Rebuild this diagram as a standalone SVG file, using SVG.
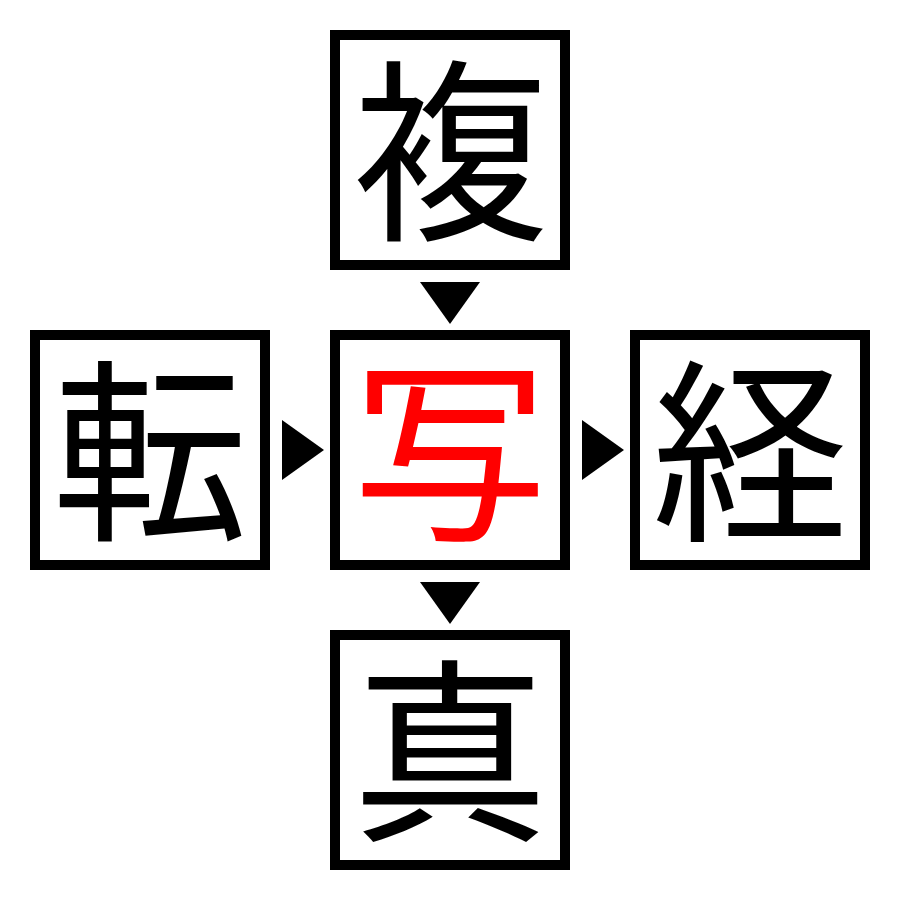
<svg xmlns="http://www.w3.org/2000/svg" width="900" height="900" viewBox="0 0 900 900">
<style>
.box{fill:#fff;stroke:#000;stroke-width:10}
.k{font-family:"Noto Sans CJK JP","Noto Sans CJK SC",sans-serif;font-size:196px;text-anchor:middle;fill:#000}
.red{fill:#ff0000}
.arr{fill:#000}
</style>
<rect width="900" height="900" fill="#fff"/>
<g id="node-top"><rect class="box" x="335" y="35" width="230" height="230"/><text class="k" x="450" y="225">複</text></g>
<g id="node-left"><rect class="box" x="35" y="335" width="230" height="230"/><text class="k" x="150" y="525">転</text></g>
<g id="node-center"><rect class="box" x="335" y="335" width="230" height="230"/><text class="k red" x="450" y="525">写</text></g>
<g id="node-right"><rect class="box" x="635" y="335" width="230" height="230"/><text class="k" x="750" y="525">経</text></g>
<g id="node-bottom"><rect class="box" x="335" y="635" width="230" height="230"/><text class="k" x="450" y="825">真</text></g>
<g id="connectors">
<polygon class="arr" points="420,282 480,282 450,324"/>
<polygon class="arr" points="420,582 480,582 450,624"/>
<polygon class="arr" points="282,420 282,480 324,450"/>
<polygon class="arr" points="582,420 582,480 624,450"/>
</g>
</svg>
